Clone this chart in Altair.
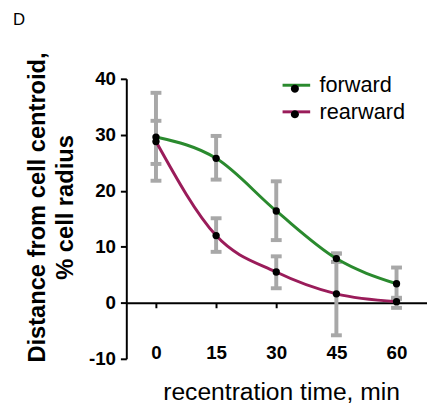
import math
import altair as alt
import pandas as pd

# ---- data ----
times = [0, 15, 30, 45, 60]
series_names = ["forward", "rearward"]
forward_mean = [29.6, 25.8, 16.4, 7.9, 3.4]
forward_lo = [21.8, 22.0, 11.2, 7.3, 0.7]
forward_hi = [37.5, 29.8, 21.7, 8.8, 6.3]
rearward_mean = [28.8, 12.0, 5.5, 1.6, 0.2]
rearward_lo = [24.8, 9.1, 2.6, -5.8, -0.9]
rearward_hi = [32.5, 15.1, 8.3, 8.8, 0.9]
x_ticks = [0, 15, 30, 45, 60]
y_ticks = [-10, 0, 10, 20, 30, 40]
colors = ["#2a8a2e", "#9a1c5a"]

rows = []
for name, m, lo, hi in [("forward", forward_mean, forward_lo, forward_hi),
                        ("rearward", rearward_mean, rearward_lo, rearward_hi)]:
    for t, a, b, c in zip(times, m, lo, hi):
        rows.append({"series": name, "series2": name, "time": t, "mean": a, "lo": b, "hi": c})
df = pd.DataFrame(rows)

FONT = "Liberation Sans"
GRAY = "#a8a8a8"
# small polygonal dot used as the legend marker (drawn on top of the legend line)
_r = 0.29
DOT_PATH = "M" + "L".join(
    f"{_r*math.cos(2*math.pi*k/20):.3f},{_r*math.sin(2*math.pi*k/20):.3f}" for k in range(20)) + "Z"

x_axis = alt.Axis(values=x_ticks, offset=-56.8, domainColor="black", domainWidth=2,
                  tickColor="black", tickWidth=2, tickSize=5,
                  labelFont=FONT, labelFontSize=19, labelFontWeight="bold", labelColor="black",
                  labelPadding=45, labelBaseline="middle", grid=False,
                  title="recentration time, min", titleFont=FONT, titleFontSize=25,
                  titleFontWeight="normal", titleColor="black", titleX=157, titleY=98,
                  titleBaseline="alphabetic")
y_axis = alt.Axis(values=y_ticks, domainColor="black", domainWidth=2,
                  tickColor="black", tickWidth=2, tickSize=6,
                  labelFont=FONT, labelFontSize=19, labelFontWeight="bold", labelColor="black",
                  labelPadding=5, grid=False, labelExpr="'' + datum.value",
                  title=["Distance from cell centroid,", "% cell radius"], titleFont=FONT,
                  titleFontSize=24, titleFontWeight="bold", titleColor="black",
                  titleAngle=-90, titleX=-83, titleY=130, titleAlign="center",
                  titleBaseline="alphabetic", titleLineHeight=28)

xs = alt.Scale(domain=[-7.4, 67.6], nice=False, zero=False)
ys = alt.Scale(domain=[-10, 40], nice=False, zero=False)

X = alt.X("time:Q", scale=xs, axis=x_axis)

base = alt.Chart(df)

bars = base.mark_rule(color=GRAY, strokeWidth=4).encode(
    x=X, y=alt.Y("lo:Q", scale=ys, axis=y_axis), y2="hi:Q")
cap_lo = base.mark_tick(color=GRAY, orient="horizontal", size=11, thickness=4, opacity=1).encode(
    x=X, y=alt.Y("lo:Q", scale=ys, axis=y_axis))
cap_hi = base.mark_tick(color=GRAY, orient="horizontal", size=11, thickness=4, opacity=1).encode(
    x=X, y=alt.Y("hi:Q", scale=ys, axis=y_axis))

LEG_X, LEG_Y = 157, -9

lines = base.mark_line(strokeWidth=3, interpolate="monotone").encode(
    x=X, y=alt.Y("mean:Q", scale=ys, axis=y_axis),
    color=alt.Color("series:N", scale=alt.Scale(domain=series_names, range=colors),
                    legend=alt.Legend(orient="none", legendX=LEG_X, legendY=LEG_Y, title=None,
                                      labelFont=FONT, labelFontSize=22, labelColor="black",
                                      symbolType="stroke", symbolSize=784, symbolStrokeWidth=3,
                                      labelOffset=8, padding=0, rowPadding=0)))

points = base.mark_point(filled=True, size=55, opacity=1, shape="circle").encode(
    x=X, y=alt.Y("mean:Q", scale=ys, axis=y_axis),
    fill=alt.Fill("series2:N", scale=alt.Scale(range=["black", "black"]),
                  legend=alt.Legend(orient="none", legendX=LEG_X, legendY=LEG_Y + 5, title=None,
                                    labelFont=FONT, labelFontSize=22, labelExpr="''",
                                    symbolType=DOT_PATH, symbolSize=784,
                                    symbolStrokeWidth=0, symbolOpacity=1, padding=0,
                                    labelOffset=8, rowPadding=1)))

chart = alt.layer(bars, cap_lo, cap_hi, lines, points).properties(
    width=305, height=284, autosize="none",
    padding={"left": 120, "top": 69, "right": 0, "bottom": 43},
    title=alt.TitleParams("D", anchor="start", frame="group", fontSize=17, fontWeight="normal",
                          font=FONT, color="black", dx=-115, offset=23),
).configure_view(stroke=None)

chart.save("out.html", embed_options={"renderer": "svg", "actions": False})
